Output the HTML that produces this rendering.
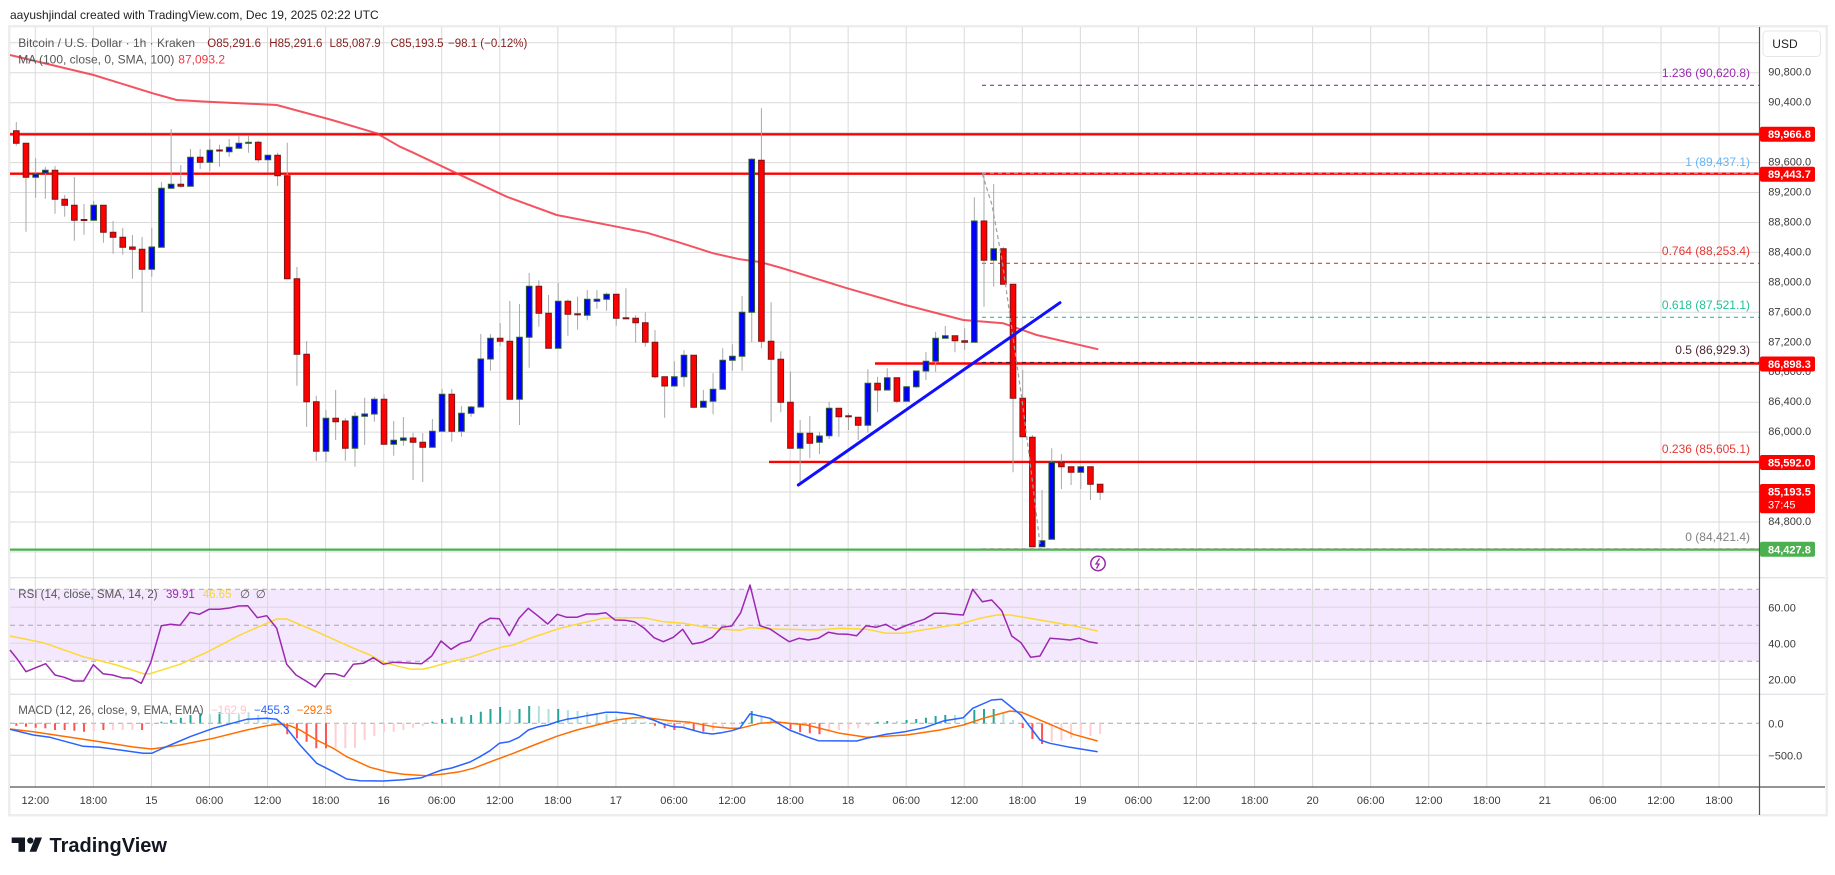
<!DOCTYPE html>
<html><head><meta charset="utf-8"><style>
html,body{margin:0;padding:0;background:#fff;}
svg{display:block;}
text{font-family:"Liberation Sans",sans-serif;}
.ns{vector-effect:non-scaling-stroke;}
.cr rect{fill:#ff0000;stroke:#7d1515;stroke-width:1;vector-effect:non-scaling-stroke;}
.cb rect{fill:#0000ff;stroke:#2c5e2e;stroke-width:1;vector-effect:non-scaling-stroke;}
</style></head><body>
<svg width="1835" height="875" viewBox="0 0 1835 875" xmlns="http://www.w3.org/2000/svg">
<rect x="0" y="0" width="1835" height="875" fill="#fff"/>
<rect x="9.25" y="26.25" width="1817.5" height="789" fill="#fff" stroke="#ededed" stroke-width="2.5"/>
<!-- RSI band -->
<rect x="10" y="589.3" width="1749" height="72" fill="#f3e8fd"/>
<!-- vertical grid -->
<g transform="translate(35.3 0) scale(58.06 1)">
<path class="ns" stroke="#dadada" stroke-width="1" fill="none" d="M0 27V787M1 27V787M2 27V787M3 27V787M4 27V787M5 27V787M6 27V787M7 27V787M8 27V787M9 27V787M10 27V787M11 27V787M12 27V787M13 27V787M14 27V787M15 27V787M16 27V787M17 27V787M18 27V787M19 27V787M20 27V787M21 27V787M22 27V787M23 27V787M24 27V787M25 27V787M26 27V787M27 27V787M28 27V787M29 27V787"/>
</g>
<!-- horizontal grid -->
<path stroke="#dadada" stroke-width="1" fill="none" d="M10 42.8H1759M10 72.7H1759M10 102.7H1759M10 132.6H1759M10 162.6H1759M10 192.5H1759M10 222.5H1759M10 252.4H1759M10 282.4H1759M10 312.3H1759M10 342.3H1759M10 372.2H1759M10 402.2H1759M10 432.1H1759M10 462.1H1759M10 492H1759M10 522H1759M10 551.9H1759M10 607.3H1759M10 643.3H1759M10 679.3H1759M10 755.3H1759"/>
<!-- dashed RSI/MACD lines -->
<path stroke="#a9a9a9" stroke-width="1" stroke-dasharray="5 4" fill="none" d="M10 589.3H1759M10 625.3H1759M10 661.3H1759M10 723.3H1759"/>
<!-- pane separators & axes -->
<path stroke="#d8d8e0" stroke-width="1" fill="none" d="M10 577.7H1825M10 694.3H1825"/>
<path stroke="#555" stroke-width="1.2" fill="none" d="M10 787H1825M1759.5 27V815"/>
<!-- red horizontal lines -->
<path stroke="#ff0000" stroke-width="2.4" fill="none" d="M10 134.3H1759M10 173.7H1759M875 363.5H1759M769 461.9H1759"/>
<path stroke="#4caf50" stroke-width="2.2" fill="none" d="M10 549.6H1759"/>
<!-- fib dashed levels -->
<path stroke="#9c27b0" stroke-width="1.2" stroke-dasharray="4 4" fill="none" d="M982 85.3H1759"/>
<path stroke="#64a0d0" stroke-width="1.2" stroke-dasharray="4 4" fill="none" d="M982 173.4H1759"/>
<path stroke="#e53935" stroke-width="1.2" stroke-dasharray="4 4" fill="none" d="M982 263.3H1759"/>
<path stroke="#26c29a" stroke-width="1.2" stroke-dasharray="4 4" fill="none" d="M982 317.3H1759"/>
<path stroke="#4a2030" stroke-width="1.2" stroke-dasharray="4 4" fill="none" d="M982 362.5H1759"/>
<path stroke="#9e9e9e" stroke-width="1" stroke-dasharray="4 4" fill="none" d="M982 548.6H1759"/>
<!-- MA -->
<path stroke="#f23645" stroke-opacity="0.85" stroke-width="2" fill="none" stroke-linejoin="round" d="M10 55L93.6 75L152.8 93.3L176.7 100L208 101.7L276.7 105L332 120L376.7 133.3L400 146.7L413.3 152.7L456.7 173.3L506.7 196.7L556.7 215L616.7 226.7L646.7 232.7L680 242.7L713.3 253.3L740 259.3L760 262L780 267.5L847.3 288.3L905.3 305L963.3 320L1003.3 323.3L1036.7 335L1098.3 349.3"/>
<!-- candles -->
<g transform="translate(16.3 0) scale(9.677 1)">
<path class="ns" stroke="#a8a8a8" stroke-width="1" fill="none" d="M0 122V145.7M1 143.3V231.7M2 158.3V197.7M3 166.7V198.7M4 166V213.7M5 195V216.7M6 177V240.7M7 204V234.7M8 201V220.7M9 205.3V242.7M10 221V253.7M11 228V254.7M12 235V278.7M13 237V312.3M14 228V276.7M15 182V247.3M16 129V188.3M17 165V187.7M18 149V186.3M19 149V169M20 139V171.3M21 144.7V166.7M22 139V156.7M23 135V148.3M24 136V152.7M25 140.7V162.3M26 155.3V172.7M27 152.7V186M28 142.7V278.7M29 267V385.7M30 341V426.7M31 395.7V461M32 410V462M33 390V440M34 418.3V460.7M35 412.3V466.7M36 397.7V445M37 396.7V421.7M38 394.3V444.3M39 421V455.7M40 417V445.7M41 432.7V480M42 433V482M43 419V447.3M44 389V431.3M45 389V441.7M46 406V436.7M47 406V416.7M48 334V407M49 334V370.7M50 323V346M51 301V399.3M52 304V425M53 273V367.7M54 280.3V326.7M55 295V348.3M56 283V348.3M57 299.3V335.7M58 296.7V329.7M59 290V320.3M60 290V308.7M61 292.7V310.7M62 294.3V325.7M63 288.3V318.3M64 315.3V342.7M65 312.3V346.7M66 330V378.3M67 376.7V417.7M68 361.3V386.7M69 350V386.7M70 355.3V408.3M71 390V407.3M72 373.3V414.3M73 348.3V389.3M74 344.3V370.7M75 296V370.7M76 158.3V342.3M77 108.3V348.3M78 302.3V422.3M79 351.3V412.3M80 371.7V448.3M81 420V485M82 416V458.3M83 431.7V454M84 401.7V439M85 408.3V436.7M86 413.3V430M87 417.3V440M88 369.3V432.7M89 376.7V412.3M90 368.3V390M91 377.7V403.3M92 386.7V401.3M93 371V388.3M94 352V380M95 331.7V371.7M96 326V338.3M97 335.7V352.3M98 328.3V350M99 197.3V342.3M100 174V306.7M101 184V286.7M102 247.3V284.3M103 284.3V472.3M104 370V436.7M105 435V546.7M106 490V546.7M107 448.3V539.3M108 454V489M109 466.7V485M110 466.7V489M111 466.7V500M112 484.3V500"/>
<g class="cr">
<rect x="-0.29" y="130.7" width="0.58" height="12.6"/>
<rect x="0.71" y="143.3" width="0.58" height="34"/>
<rect x="3.71" y="170.3" width="0.58" height="29"/>
<rect x="4.71" y="199.3" width="0.58" height="6"/>
<rect x="5.71" y="205.3" width="0.58" height="15"/>
<rect x="6.71" y="219.5" width="0.58" height="1"/>
<rect x="8.71" y="205.3" width="0.58" height="27"/>
<rect x="9.71" y="232.3" width="0.58" height="5"/>
<rect x="10.71" y="237.3" width="0.58" height="10"/>
<rect x="11.71" y="247" width="0.58" height="2.3"/>
<rect x="12.71" y="249.3" width="0.58" height="20"/>
<rect x="16.71" y="184.3" width="0.58" height="2"/>
<rect x="18.71" y="157.3" width="0.58" height="5"/>
<rect x="20.71" y="150" width="0.58" height="1"/>
<rect x="24.71" y="142.3" width="0.58" height="17.4"/>
<rect x="26.71" y="155.3" width="0.58" height="20.4"/>
<rect x="27.71" y="175.7" width="0.58" height="103"/>
<rect x="28.71" y="278.7" width="0.58" height="75.6"/>
<rect x="29.71" y="354.3" width="0.58" height="47.4"/>
<rect x="30.71" y="401.7" width="0.58" height="49.6"/>
<rect x="32.71" y="418.3" width="0.58" height="3.4"/>
<rect x="33.71" y="421" width="0.58" height="27.3"/>
<rect x="37.71" y="399.3" width="0.58" height="45"/>
<rect x="40.71" y="438" width="0.58" height="4.3"/>
<rect x="41.71" y="442.3" width="0.58" height="5"/>
<rect x="44.71" y="394.3" width="0.58" height="37"/>
<rect x="49.71" y="338.3" width="0.58" height="3"/>
<rect x="50.71" y="341.3" width="0.58" height="58"/>
<rect x="53.71" y="286.3" width="0.58" height="27"/>
<rect x="54.71" y="313.3" width="0.58" height="35"/>
<rect x="56.71" y="301.3" width="0.58" height="13"/>
<rect x="57.71" y="313.8" width="0.58" height="1"/>
<rect x="61.71" y="294.3" width="0.58" height="24"/>
<rect x="62.71" y="317.8" width="0.58" height="1"/>
<rect x="63.71" y="318.3" width="0.58" height="4.4"/>
<rect x="64.71" y="322.7" width="0.58" height="19.6"/>
<rect x="65.71" y="342.3" width="0.58" height="34.4"/>
<rect x="66.71" y="376.7" width="0.58" height="9.3"/>
<rect x="69.71" y="355.3" width="0.58" height="52"/>
<rect x="76.71" y="160.3" width="0.58" height="181"/>
<rect x="77.71" y="341.3" width="0.58" height="18"/>
<rect x="78.71" y="359.3" width="0.58" height="43"/>
<rect x="79.71" y="402.3" width="0.58" height="46"/>
<rect x="81.71" y="433.3" width="0.58" height="10"/>
<rect x="84.71" y="408.3" width="0.58" height="8.4"/>
<rect x="85.71" y="415.8" width="0.58" height="1"/>
<rect x="86.71" y="417.3" width="0.58" height="8"/>
<rect x="88.71" y="383.3" width="0.58" height="6.7"/>
<rect x="90.71" y="377.7" width="0.58" height="23.6"/>
<rect x="96.71" y="335.7" width="0.58" height="5"/>
<rect x="97.71" y="340.7" width="0.58" height="1.6"/>
<rect x="99.71" y="221" width="0.58" height="39.3"/>
<rect x="101.71" y="248.7" width="0.58" height="35.6"/>
<rect x="102.71" y="284.3" width="0.58" height="114"/>
<rect x="103.71" y="398.3" width="0.58" height="38.4"/>
<rect x="104.71" y="437.3" width="0.58" height="109.4"/>
<rect x="107.71" y="462.3" width="0.58" height="4.4"/>
<rect x="108.71" y="466.7" width="0.58" height="5.6"/>
<rect x="110.71" y="466.7" width="0.58" height="17.6"/>
<rect x="111.71" y="484.3" width="0.58" height="8"/>
</g>
<g class="cb">
<rect x="1.71" y="174" width="0.58" height="3.3"/>
<rect x="2.71" y="170.3" width="0.58" height="2.7"/>
<rect x="7.71" y="205.3" width="0.58" height="15"/>
<rect x="13.71" y="247" width="0.58" height="22.3"/>
<rect x="14.71" y="188.3" width="0.58" height="59"/>
<rect x="15.71" y="184.3" width="0.58" height="4"/>
<rect x="17.71" y="157.3" width="0.58" height="29"/>
<rect x="19.71" y="150.3" width="0.58" height="12"/>
<rect x="21.71" y="147.3" width="0.58" height="4.4"/>
<rect x="22.71" y="143.3" width="0.58" height="5"/>
<rect x="23.71" y="142.3" width="0.58" height="1"/>
<rect x="25.71" y="155.3" width="0.58" height="4.4"/>
<rect x="31.71" y="418.3" width="0.58" height="33"/>
<rect x="34.71" y="416.3" width="0.58" height="32"/>
<rect x="35.71" y="414" width="0.58" height="2.3"/>
<rect x="36.71" y="399.3" width="0.58" height="14.7"/>
<rect x="38.71" y="440.3" width="0.58" height="4"/>
<rect x="39.71" y="438" width="0.58" height="2.3"/>
<rect x="42.71" y="431.3" width="0.58" height="16"/>
<rect x="43.71" y="394.3" width="0.58" height="37"/>
<rect x="45.71" y="413.3" width="0.58" height="18"/>
<rect x="46.71" y="407" width="0.58" height="6.3"/>
<rect x="47.71" y="359" width="0.58" height="48"/>
<rect x="48.71" y="338.3" width="0.58" height="20.7"/>
<rect x="51.71" y="337.3" width="0.58" height="62"/>
<rect x="52.71" y="286.3" width="0.58" height="51"/>
<rect x="55.71" y="301.3" width="0.58" height="47"/>
<rect x="58.71" y="299.3" width="0.58" height="16"/>
<rect x="59.71" y="299.3" width="0.58" height="2"/>
<rect x="60.71" y="294.3" width="0.58" height="5"/>
<rect x="67.71" y="376.7" width="0.58" height="9.3"/>
<rect x="68.71" y="355.3" width="0.58" height="21.4"/>
<rect x="70.71" y="401.3" width="0.58" height="6"/>
<rect x="71.71" y="389.3" width="0.58" height="12"/>
<rect x="72.71" y="360.3" width="0.58" height="29"/>
<rect x="73.71" y="356.3" width="0.58" height="4"/>
<rect x="74.71" y="312.3" width="0.58" height="44"/>
<rect x="75.71" y="159.3" width="0.58" height="153"/>
<rect x="80.71" y="433.3" width="0.58" height="15"/>
<rect x="82.71" y="436" width="0.58" height="6.3"/>
<rect x="83.71" y="408.3" width="0.58" height="27.4"/>
<rect x="87.71" y="383.3" width="0.58" height="42"/>
<rect x="89.71" y="377.7" width="0.58" height="12.3"/>
<rect x="91.71" y="386.7" width="0.58" height="14.6"/>
<rect x="92.71" y="371" width="0.58" height="15.7"/>
<rect x="93.71" y="361.3" width="0.58" height="9.7"/>
<rect x="94.71" y="338.3" width="0.58" height="23"/>
<rect x="95.71" y="335.7" width="0.58" height="2.6"/>
<rect x="98.71" y="221" width="0.58" height="121.3"/>
<rect x="100.71" y="248.7" width="0.58" height="11.6"/>
<rect x="105.71" y="540.7" width="0.58" height="6"/>
<rect x="106.71" y="462.3" width="0.58" height="77"/>
<rect x="109.71" y="466.7" width="0.58" height="5.6"/>
</g>
<!-- MACD histogram -->
<path class="ns" stroke="#26a69a" stroke-width="2" fill="none" d="M15 723.3V721.7M16 723.3V720M17 723.3V717.7M18 723.3V715M19 723.3V713.3M21 723.3V712.3M43 723.3V721.7M44 723.3V719M45 723.3V717.7M46 723.3V716.7M47 723.3V715M48 723.3V711.7M49 723.3V709M50 723.3V707M52 723.3V709M53 723.3V706M56 723.3V709M75 723.3V721.7M76 723.3V711M89 723.3V721.7M90 723.3V721M92 723.3V720M93 723.3V719M94 723.3V717.7M95 723.3V716M96 723.3V715M99 723.3V710M100 723.3V709M101 723.3V709"/>
<path class="ns" stroke="#b2dfdb" stroke-width="2" fill="none" d="M20 723.3V714.3M22 723.3V713.3M23 723.3V714.3M24 723.3V712.3M25 723.3V715M26 723.3V718M27 723.3V720M51 723.3V710M54 723.3V706M55 723.3V709M57 723.3V710M58 723.3V711M59 723.3V711.7M60 723.3V713.3M61 723.3V714.3M62 723.3V716.7M63 723.3V718.3M64 723.3V720M65 723.3V721.7M77 723.3V716.7M78 723.3V718.3M79 723.3V721.7M91 723.3V721M97 723.3V715M98 723.3V718M102 723.3V712.3M103 723.3V720"/>
<path class="ns" stroke="#ff5252" stroke-width="2" fill="none" d="M0 723.3V725.7M1 723.3V726.7M2 723.3V727.7M3 723.3V728.3M4 723.3V730M5 723.3V730M6 723.3V730.7M7 723.3V731.7M9 723.3V730M13 723.3V730M28 723.3V734.3M29 723.3V738.3M30 723.3V741.7M31 723.3V748.3M32 723.3V748.3M66 723.3V725.7M67 723.3V728.3M68 723.3V730M70 723.3V730M71 723.3V731.7M80 723.3V729.3M81 723.3V732.3M82 723.3V733.3M83 723.3V734.3M104 723.3V728M105 723.3V739M106 723.3V744"/>
<path class="ns" stroke="#ffcdd2" stroke-width="2" fill="none" d="M8 723.3V731M10 723.3V730M11 723.3V730M12 723.3V730M14 723.3V725.7M33 723.3V747.7M34 723.3V748.3M35 723.3V747.7M36 723.3V740M37 723.3V736M38 723.3V731.7M39 723.3V731.7M40 723.3V730M41 723.3V727.7M42 723.3V726M69 723.3V726.7M72 723.3V730.7M73 723.3V727.7M74 723.3V725.7M84 723.3V731.3M85 723.3V730.3M86 723.3V729M87 723.3V728.3M88 723.3V725.7M107 723.3V741.7M108 723.3V740.7M109 723.3V738.3M110 723.3V735M111 723.3V736M112 723.3V734"/>
</g>
<!-- fib diagonal -->
<path stroke="#9e9e9e" stroke-width="1.2" stroke-dasharray="4 3" fill="none" d="M982.3 174L992 205L1002 260L1012 330L1022 400L1031 470L1040.3 546.7"/>
<!-- blue trendline -->
<path stroke="#1010ff" stroke-width="3" fill="none" stroke-linecap="round" d="M798.3 485L1060 302.7"/>
<!-- RSI -->
<path stroke="#fdd835" stroke-width="1.5" fill="none" stroke-linejoin="round" d="M10 636L43.3 642.7L83.3 656.7L116.7 665L143.3 673.7L150 673.7L180 664.3L206.7 652.3L240 635L266.7 623.3L276.7 619L286.7 619L316.7 631.7L350 646.7L370 655L383.3 662.3L400 666.7L411.7 669.3L423.3 669L433.3 666.7L453.3 661L470 657.3L486.7 651.7L503.3 646.7L513.3 645L530 638.3L546.7 632.7L560 628.3L583.3 622.7L603.3 618.3L613.3 617.7L643.3 617.7L663.3 621.7L683.3 623.3L703.3 626.7L723.3 629.3L740 630.3L750 627.7L773.3 629L816.7 630L840 628.3L866.7 629.3L886.7 633.3L903.3 633.3L926.7 629.3L960 624L980 618.3L996.7 615L1010 615L1040 620L1073.3 625.7L1097.7 631"/>
<path stroke="#9c27b0" stroke-width="1.5" fill="none" stroke-linejoin="round" d="M10 650L16.7 658.3L26 671.7L35.7 667.7L45.7 663.7L55 675L64.3 677.3L73.7 681L83.7 681L93.3 664.7L103 673.7L112.7 675L122 677.7L131.7 678.3L141.3 683.3L150.7 662.7L161.3 625.7L170.7 624.3L180 625.3L190 612.3L199.3 614.3L209 609.3L219.3 609.3L229.3 608L238.7 606L247.7 605.7L257.3 617.7L266.7 615.7L276.7 628.3L286.7 664.3L296 675L306 681L315.3 687L325 673.7L334.7 673.7L344 676.7L353.3 664.3L363.3 663.3L373.3 657.7L383.3 664.3L393.3 662.3L403.3 662.7L412.3 663.3L421.7 663.7L431.7 656L441 641L451 649.3L460.7 643.3L470.3 640.7L480 624L490 618.3L499.3 618.7L509.3 635.7L519 618.3L528.3 608.3L537.7 615.7L547.7 624L557.3 614.3L566.7 617.3L576.7 617.3L586.7 614L596.7 614L605.7 612.7L615 620L625 620.3L634.3 621.7L644.3 628.3L654 637.7L663.3 641.7L673.3 637.3L682.7 629.3L692.3 644L702.3 642.3L712.3 637.3L721.7 627.3L731.7 626L740.7 612.7L750 585L760 625.7L770 629L780 635.7L789.3 641.7L799 638.3L808.3 640L818.3 638.3L828.3 632.3L837.7 634L847.7 634.3L856.7 635.7L866 625.7L876 627.3L885.7 624.3L895.7 630L905 626L915 622.3L924.3 619.3L934.3 613.3L944.3 613.3L953.3 614.3L963.3 615L972.7 589.3L982.3 601.7L991.7 600L1001.7 610.7L1011.7 636L1021 642.7L1030.7 657.3L1040 656L1050 638.3L1060 639L1070 640L1079.3 638.3L1088.7 641.7L1097.7 643.3"/>
<!-- MACD lines -->
<path stroke="#ff6d00" stroke-width="1.5" fill="none" stroke-linejoin="round" d="M10 729L33.3 731.7L66.7 736.7L100 741.7L133.3 747L151.7 749L180 745L213.3 738.3L246.7 730L266.7 725.7L280 724L290 725.7L300 730L316.7 740L333.3 748.3L346.7 756.7L370 767.3L386.7 771.7L403.3 774.3L426.7 775.7L441.7 774.3L460 771.7L473.3 768.3L493.3 760.7L513.3 753.3L536.7 744L556.7 736.3L576.7 730L596.7 725L616.7 720L633.3 717.7L646.7 717.7L670 720.7L690 722.3L713.3 726.7L730 728.3L740 728.3L760 723.3L776.7 722L806.7 725L840 733.3L866.7 737.3L906.7 735L940 730L963.3 725L983.3 718.3L1010 711L1021.7 712.3L1050 724.3L1073.3 734.3L1097.7 741"/>
<path stroke="#2962ff" stroke-width="1.5" fill="none" stroke-linejoin="round" d="M10 729.3L33.3 735L50 737.3L83.3 746.3L100 747.3L143.3 753.3L151.7 753.3L163.3 748L190 736.7L213.3 728.3L246.7 719.3L266.7 718.3L276.7 719.3L286.7 728.3L300 745L316.7 763.3L333.3 771.7L346.7 779L360 780.7L383.3 781L403.3 779.7L421.7 777.7L431.7 773.7L441.7 770L451.7 768L470 762L480 756.7L490 750.7L499.3 743.3L509.3 741.7L519 737.3L528.3 730L538.3 726.7L547.7 725L557.3 721.7L566.7 719.3L576.7 717.7L586.7 715.7L596.7 714L605.7 712.3L616.7 712.3L633.3 714L643.3 716.7L653.3 720L663.3 724L673.3 726.7L682.7 727.3L692.3 730L702.3 732.7L712.3 734L721.7 732.7L731.7 730.7L740 728L750 713.8L770 718.3L789.3 730L808.3 737.3L818.3 740.7L856.7 741L866.7 738.3L885.7 734.3L905 731.7L924.3 727.7L944.3 720.7L963.3 717.7L972.7 708.3L991.7 700L1001.7 699.3L1021 715L1040 740L1050 743.3L1070 747.3L1097.7 751.7"/>
<!-- purple icon -->
<circle cx="1098" cy="563.5" r="7.2" fill="#fff" stroke="#9c27b0" stroke-width="1.5"/>
<path d="M1099.5 558.5L1096 564H1099L1096.5 568.5" stroke="#9c27b0" stroke-width="1.3" fill="none"/>
<!-- title and legends -->
<text x="10" y="19.2" font-size="12" fill="#222">aayushjindal created with TradingView.com, Dec 19, 2025 02:22 UTC</text>
<g font-size="12">
<text x="18.3" y="46.9" fill="#555">Bitcoin / U.S. Dollar · 1h · Kraken</text>
<text x="18.3" y="63.5" fill="#555">MA (100, close, 0, SMA, 100)</text>
<text x="178.3" y="63.5" fill="#f23645">87,093.2</text>
</g>
<g font-size="11.5" fill="#861d1d">
<text x="207.3" y="46.9">O85,291.6</text>
<text x="269.3" y="46.9">H85,291.6</text>
<text x="329.5" y="46.9">L85,087.9</text>
<text x="390.5" y="46.9">C85,193.5</text>
<text x="448" y="46.9">−98.1 (−0.12%)</text>
</g>
<g font-size="11.5">
<text x="18.3" y="598.2" fill="#555">RSI (14, close, SMA, 14, 2)</text>
<text x="166" y="598.2" fill="#9c27b0">39.91</text>
<text x="202.7" y="598.2" fill="#f5d63a">46.65</text>
<text x="240" y="598.2" fill="#555">∅</text>
<text x="255.7" y="598.2" fill="#555">∅</text>
<text x="18.3" y="714.2" fill="#555">MACD (12, 26, close, 9, EMA, EMA)</text>
<text x="211" y="714.2" fill="#ffc4cb">−162.9</text>
<text x="254" y="714.2" fill="#2962ff">−455.3</text>
<text x="296.7" y="714.2" fill="#ff6d00">−292.5</text>
</g>
<!-- fib labels -->
<g font-size="12" text-anchor="end">
<text x="1750" y="76.9" fill="#9c27b0">1.236 (90,620.8)</text>
<text x="1750" y="166.2" fill="#64b5f6">1 (89,437.1)</text>
<text x="1750" y="254.9" fill="#e53935">0.764 (88,253.4)</text>
<text x="1750" y="309.2" fill="#22c197">0.618 (87,521.1)</text>
<text x="1750" y="354.2" fill="#4d2634">0.5 (86,929.3)</text>
<text x="1750" y="453.2" fill="#e53935">0.236 (85,605.1)</text>
<text x="1750" y="540.9" fill="#808080">0 (84,421.4)</text>
</g>
<!-- price axis -->
<rect x="1763" y="31" width="57.5" height="25.5" rx="4" fill="#fff" stroke="#e6e6e6" stroke-width="1"/>
<text x="1772.3" y="48.2" font-size="12" fill="#222">USD</text>
<g font-size="11" fill="#3a3a3a">
<text x="1768.3" y="75.7">90,800.0</text>
<text x="1768.3" y="105.7">90,400.0</text>
<text x="1768.3" y="165.6">89,600.0</text>
<text x="1768.3" y="195.5">89,200.0</text>
<text x="1768.3" y="225.5">88,800.0</text>
<text x="1768.3" y="255.4">88,400.0</text>
<text x="1768.3" y="285.4">88,000.0</text>
<text x="1768.3" y="315.3">87,600.0</text>
<text x="1768.3" y="345.3">87,200.0</text>
<text x="1768.3" y="375.2">86,800.0</text>
<text x="1768.3" y="405.2">86,400.0</text>
<text x="1768.3" y="435.1">86,000.0</text>
<text x="1768.3" y="525">84,800.0</text>
<text x="1768.3" y="611.3">60.00</text>
<text x="1768.3" y="647.3">40.00</text>
<text x="1768.3" y="683.3">20.00</text>
<text x="1768.3" y="727.3">0.0</text>
<text x="1768.3" y="759.3">−500.0</text>
</g>
<!-- tags -->
<g>
<rect x="1760" y="126.7" width="55" height="15" rx="2" fill="#ff0000"/>
<rect x="1760" y="166.7" width="55" height="15" rx="2" fill="#ff0000"/>
<rect x="1760" y="356.5" width="55" height="15" rx="2" fill="#ff0000"/>
<rect x="1760" y="455" width="55" height="15" rx="2" fill="#ff0000"/>
<rect x="1760" y="484" width="55" height="29.3" rx="2" fill="#ff0000"/>
<rect x="1760" y="541.8" width="55" height="15" rx="2" fill="#4caf50"/>
</g>
<g font-size="11" font-weight="bold" fill="#fff">
<text x="1768" y="138.2">89,966.8</text>
<text x="1768" y="178.2">89,443.7</text>
<text x="1768" y="368">86,898.3</text>
<text x="1768" y="466.5">85,592.0</text>
<text x="1768" y="495.5">85,193.5</text>
<text x="1768" y="553.3">84,427.8</text>
</g>
<text x="1768" y="508.5" font-size="11" fill="#fff">37:45</text>
<!-- time axis -->
<g font-size="11" fill="#3a3a3a" text-anchor="middle">
<text x="35.3" y="804">12:00</text>
<text x="93.4" y="804">18:00</text>
<text x="151.4" y="804">15</text>
<text x="209.5" y="804">06:00</text>
<text x="267.5" y="804">12:00</text>
<text x="325.6" y="804">18:00</text>
<text x="383.7" y="804">16</text>
<text x="441.7" y="804">06:00</text>
<text x="499.8" y="804">12:00</text>
<text x="557.8" y="804">18:00</text>
<text x="615.9" y="804">17</text>
<text x="674" y="804">06:00</text>
<text x="732" y="804">12:00</text>
<text x="790.1" y="804">18:00</text>
<text x="848.1" y="804">18</text>
<text x="906.2" y="804">06:00</text>
<text x="964.3" y="804">12:00</text>
<text x="1022.3" y="804">18:00</text>
<text x="1080.4" y="804">19</text>
<text x="1138.4" y="804">06:00</text>
<text x="1196.5" y="804">12:00</text>
<text x="1254.6" y="804">18:00</text>
<text x="1312.6" y="804">20</text>
<text x="1370.7" y="804">06:00</text>
<text x="1428.7" y="804">12:00</text>
<text x="1486.8" y="804">18:00</text>
<text x="1544.9" y="804">21</text>
<text x="1602.9" y="804">06:00</text>
<text x="1661" y="804">12:00</text>
<text x="1719" y="804">18:00</text>
</g>
<!-- TradingView logo -->
<g fill="#131722">
<rect x="11.7" y="837.5" width="13.3" height="5.5"/>
<rect x="18.5" y="837.5" width="6.5" height="14.3"/>
<circle cx="30.3" cy="840.6" r="3.1"/>
<polygon points="35.3,837.5 42,837.5 36.3,851.8 29.6,851.8"/>
</g>
<text x="49.5" y="851.8" font-size="20" font-weight="bold" fill="#131722">TradingView</text>
</svg>
</body></html>
